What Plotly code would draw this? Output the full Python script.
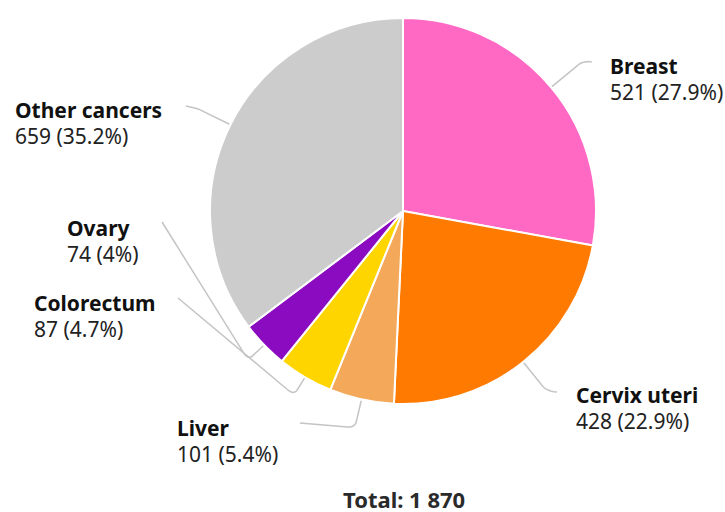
import math
import plotly.graph_objects as go

# ---- data ----
categories = ["Breast", "Cervix uteri", "Liver", "Colorectum", "Ovary", "Other cancers"]
values = [521, 428, 101, 87, 74, 659]
percent_labels = ["27.9%", "22.9%", "5.4%", "4.7%", "4%", "35.2%"]
total_label = "Total: 1 870"

# ---- styles / layout ----
colors = ["#FF69C4", "#FF7A00", "#F4A95A", "#FFD500", "#8A0BC0", "#CCCCCC"]
W, H = 725, 512
CX, CY, R = 403, 211, 193
FONT = "Noto Sans"
FS = 21
LINE_GAP = 26

# label layout (pixel anchors): left x, y of name line, elbow extra radius, line end point
label_layout = [
    dict(x=608, y=66, d=42, end=(592, 62)),
    dict(x=574, y=395, d=37, end=(557, 392)),
    dict(x=175, y=428, d=29, end=(300, 423)),
    dict(x=32, y=303, d=21, end=(178, 298)),
    dict(x=65, y=228, d=22, end=(162, 222)),
    dict(x=13, y=110, d=37, end=(186, 106)),
]

fig = go.Figure()

fig.add_trace(go.Pie(
    labels=categories, values=values, sort=False, direction="clockwise", rotation=0,
    marker=dict(colors=colors, line=dict(color="white", width=2)),
    textinfo="none", hoverinfo="label+value+percent", showlegend=False,
    domain=dict(x=[(CX - R) / W, (CX + R) / W], y=[1 - (CY + R) / H, 1 - (CY - R) / H]),
))


def toward(a, b, dist):
    dx, dy = b[0] - a[0], b[1] - a[1]
    L = math.hypot(dx, dy) or 1
    return (a[0] + dx / L * dist, a[1] + dy / L * dist)


total = sum(values)
cum = 0
annotations = []
for i, (cat, v) in enumerate(zip(categories, values)):
    mid = (cum + v / 2) / total * 2 * math.pi
    cum += v
    s, c = math.sin(mid), math.cos(mid)
    lay = label_layout[i]
    p0 = (CX + (R + 1) * s, CY - (R + 1) * c)
    p1 = (CX + (R + lay["d"]) * s, CY - (R + lay["d"]) * c)
    p2 = lay["end"]
    rad = 8
    q1 = toward(p1, p0, rad)
    q2 = toward(p1, p2, rad)
    pts = [p0, q1]
    for t in [0.2, 0.4, 0.6, 0.8]:
        x = (1 - t) ** 2 * q1[0] + 2 * (1 - t) * t * p1[0] + t ** 2 * q2[0]
        y = (1 - t) ** 2 * q1[1] + 2 * (1 - t) * t * p1[1] + t ** 2 * q2[1]
        pts.append((x, y))
    pts += [q2, p2]
    fig.add_trace(go.Scatter(
        x=[p[0] for p in pts], y=[p[1] for p in pts], mode="lines",
        line=dict(color="#C4C4C4", width=1.5), hoverinfo="skip", showlegend=False,
        xaxis="x", yaxis="y",
    ))
    annotations.append(dict(
        x=lay["x"], y=lay["y"], xref="x", yref="y", xanchor="left", yanchor="middle",
        text=f"<b>{cat}</b>", showarrow=False, font=dict(family=FONT, size=FS, color="#111111"),
    ))
    annotations.append(dict(
        x=lay["x"], y=lay["y"] + LINE_GAP, xref="x", yref="y", xanchor="left", yanchor="middle",
        text=f"{v} ({percent_labels[i]})", showarrow=False,
        font=dict(family=FONT, size=FS, color="#222222"),
    ))

annotations.append(dict(
    x=CX + 1, y=499, xref="x", yref="y", xanchor="center", yanchor="middle",
    text=f"<b>{total_label}</b>", showarrow=False, font=dict(family=FONT, size=22, color="#2A2A2A"),
))

fig.update_layout(
    width=W, height=H, margin=dict(l=0, r=0, t=0, b=0),
    paper_bgcolor="white", plot_bgcolor="rgba(0,0,0,0)",
    xaxis=dict(range=[0, W], visible=False, fixedrange=True, domain=[0, 1]),
    yaxis=dict(range=[H, 0], visible=False, fixedrange=True, domain=[0, 1]),
    annotations=annotations,
)

fig.write_html("out.html", config={"displayModeBar": False},
               post_script="document.body.style.margin='0';")
